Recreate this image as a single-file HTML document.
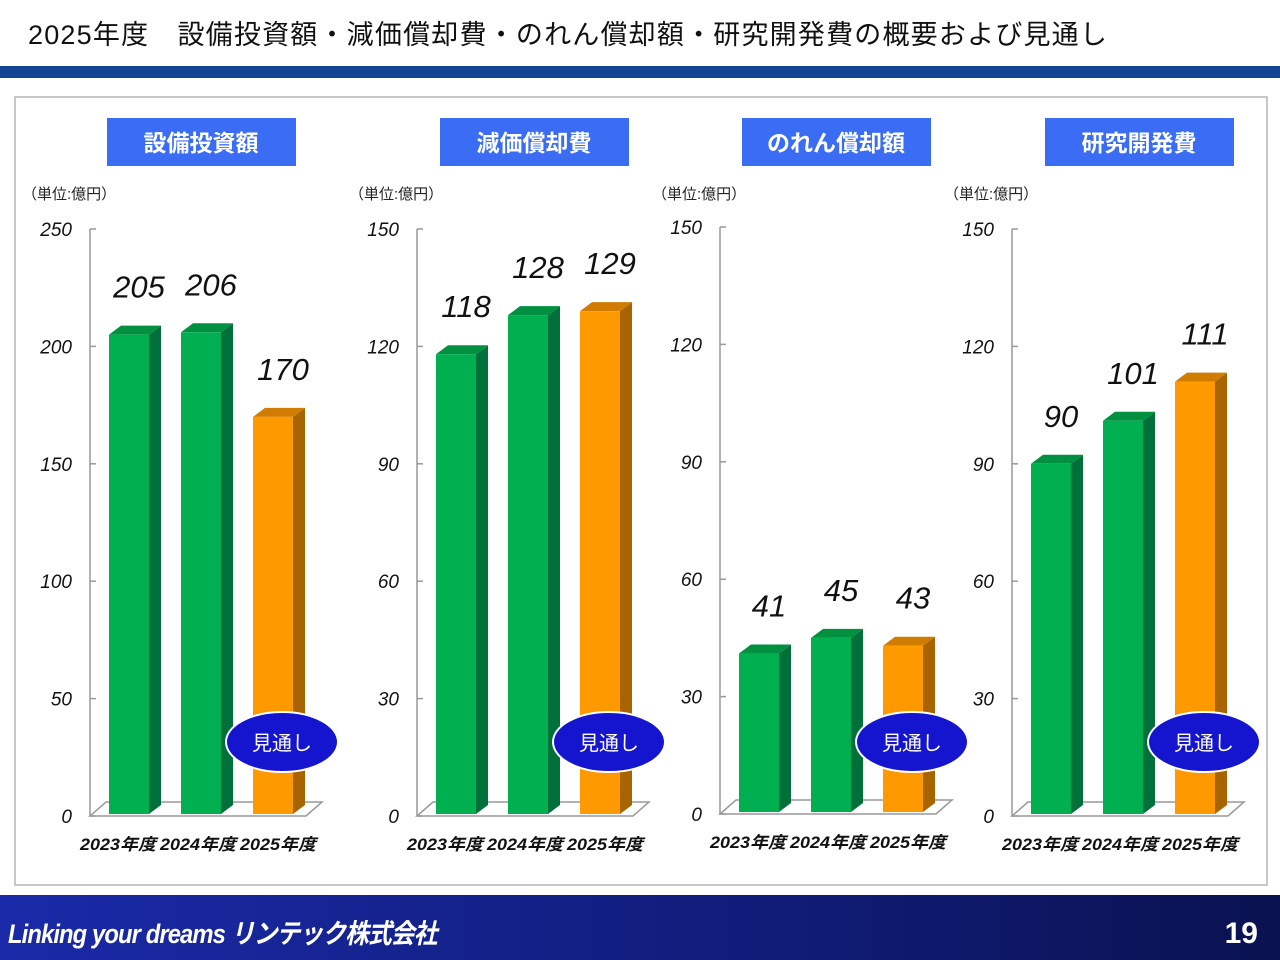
<!DOCTYPE html>
<html><head><meta charset="utf-8"><style>
body{margin:0;width:1280px;height:960px;overflow:hidden;background:#fff;font-family:"Liberation Sans","Noto Sans CJK JP",sans-serif;position:relative}
.t{position:absolute;left:28px;top:13px;font-size:27px;color:#111;white-space:nowrap;letter-spacing:1.2px}
.bar{position:absolute;left:0;top:66px;width:1280px;height:12px;background:#154394}
.frame{position:absolute;left:14px;top:96px;width:1250px;height:786px;border:2px solid #c8c8c8}
.foot{position:absolute;left:0;top:895px;width:1280px;height:65px;background:linear-gradient(90deg,#1a2aa8,#101c78 60%,#0a1250)}
.ft{position:absolute;left:8px;top:17px;color:#fff;font-size:27px;font-style:italic;font-weight:bold;white-space:nowrap;letter-spacing:-1px;transform:scaleX(0.88);transform-origin:left}
.pg{position:absolute;right:22px;top:22px;color:#fff;font-size:30px;font-weight:bold}
svg{position:absolute;left:0;top:0}
</style></head><body>
<div class="t">2025年度　設備投資額・減価償却費・のれん償却額・研究開発費の概要および見通し</div>
<div class="bar"></div>
<div class="frame"></div>
<svg id="s" width="1280" height="960"></svg>
<div class="foot"><div class="ft">Linking your dreams リンテック株式会社</div><div class="pg">19</div></div>
<script>
const categories=["2023年度","2024年度","2025年度"];
const titles=["設備投資額","減価償却費","のれん償却額","研究開発費"];
const capex=[205,206,170];
const depreciation=[118,128,129];
const goodwill=[41,45,43];
const rnd=[90,101,111];
const maxes=[250,150,150,150];
const ticks1=[0,50,100,150,200,250];
const ticks2=[0,30,60,90,120,150];
const series=[capex,depreciation,goodwill,rnd];
const tickSets=[ticks1,ticks2,ticks2,ticks2];
const layout=[{ax:90,top:229,bot:816,hx:107},{ax:417,top:229,bot:816,hx:440},{ax:720,top:227,bot:814,hx:742},{ax:1012,top:229,bot:816,hx:1045}];
const s=document.getElementById('s');const NS='http://www.w3.org/2000/svg';
function mk(tag,at,txt){const e=document.createElementNS(NS,tag);for(const k in at)e.setAttribute(k,at[k]);if(txt!==undefined)e.textContent=txt;s.appendChild(e);return e;}
series.forEach((vals,p)=>{
 const L=layout[p],mx=maxes[p];
 const y=v=>L.bot-(v/mx)*(L.bot-L.top);
 let e=mk('rect',{x:L.hx,y:118,width:189,height:48,fill:'#3a6cf4'});
 
 e=mk('text',{x:L.hx+94,y:151,'text-anchor':'middle','font-size':23,'font-weight':'bold',fill:'#fff'},titles[p]);
 
 e=mk('text',{x:L.ax-68,y:199,'font-size':15,fill:'#222'},'（単位:億円）');
 
 e=mk('path',{d:`M${L.ax} ${L.bot}L${L.ax+216} ${L.bot}L${L.ax+232} ${L.bot-14}L${L.ax+16} ${L.bot-14}Z`,fill:'#fff',stroke:'#999','stroke-width':1.5});
 
 e=mk('line',{x1:L.ax,y1:L.top,x2:L.ax,y2:L.bot,stroke:'#999','stroke-width':1.5});
 
 tickSets[p].forEach(t=>{
  e=mk('line',{x1:L.ax,y1:y(t),x2:L.ax+6,y2:y(t),stroke:'#999','stroke-width':1.5});
  
  e=mk('text',{x:L.ax-18,y:y(t)+7,'text-anchor':'end','font-size':19,'font-style':'italic',fill:'#111'},t);
  
 });
 vals.forEach((v,i)=>{
  const x=L.ax+19+i*72,w=40,yt=y(v),b=L.bot-2;
  const orange=i==2;
  const f=orange?'#ff9900':'#00b050',sd=orange?'#a86400':'#00703a',tp=orange?'#d07c00':'#009040';
  e=mk('path',{d:`M${x+w} ${yt}L${x+w+12} ${yt-9}L${x+w+12} ${b-9}L${x+w} ${b}Z`,fill:sd});
  
  e=mk('path',{d:`M${x} ${yt}L${x+12} ${yt-9}L${x+w+12} ${yt-9}L${x+w} ${yt}Z`,fill:tp});
  
  e=mk('rect',{x:x,y:yt,width:w,height:b-yt,fill:f});
  
  e=mk('text',{x:x+w/2+10,y:yt-37,'text-anchor':'middle','font-size':31,'font-style':'italic',fill:'#111'},v);
  
  e=mk('text',{x:L.ax-10+i*80,y:L.bot+34,'font-size':16.5,'font-style':'italic','font-weight':'bold',fill:'#111',textLength:76,lengthAdjust:'spacingAndGlyphs'},categories[i]);
  
 });
 const cx=L.ax+192;
 e=mk('ellipse',{cx:cx,cy:742,rx:56,ry:30,fill:'#1515d0',stroke:'#fff','stroke-width':2});
 
 e=mk('text',{x:cx,y:750,'text-anchor':'middle','font-size':20,fill:'#fff'},'見通し');
 
});
</script>
</body></html>
